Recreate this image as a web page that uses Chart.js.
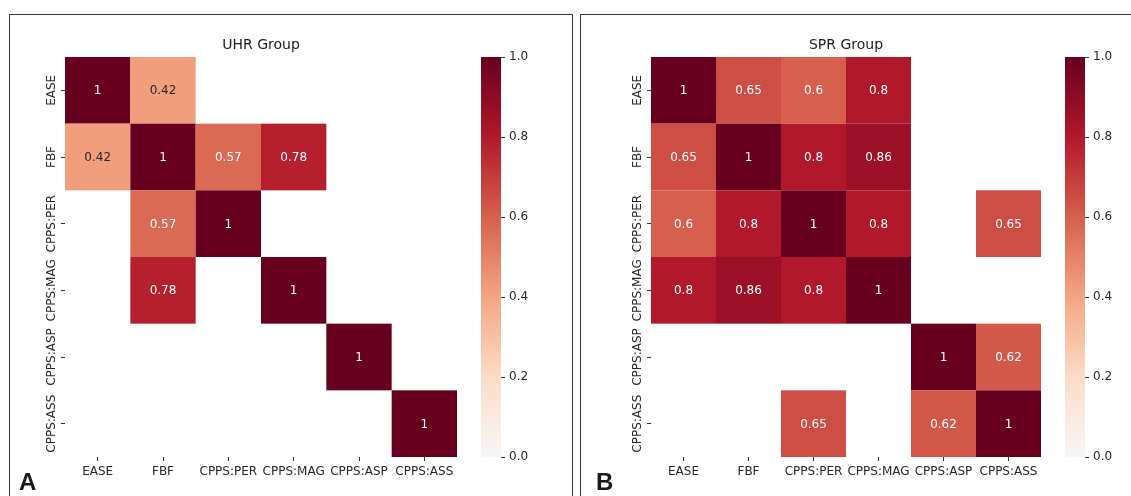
<!DOCTYPE html>
<html>
<head>
<meta charset="utf-8">
<script src="https://cdn.jsdelivr.net/npm/chart.js@4.4.0/dist/chart.umd.min.js"></script>
<style>
html,body{margin:0;padding:0;background:#fff;width:1131px;height:496px;overflow:hidden;position:relative;}
.frame{position:absolute;border:1px solid #333;box-sizing:border-box;}
canvas{position:absolute;}
.letter{position:absolute;font-family:"Liberation Sans",Arial,sans-serif;font-weight:bold;font-size:24px;line-height:24px;color:#1a1a1a;}
</style>
</head>
<body>
<div class="frame" style="left:9px;top:14px;width:564px;height:540px"></div>
<div class="frame" style="left:580px;top:14px;width:620px;height:540px"></div>
<canvas id="hmA" width="470" height="496" style="left:0;top:0"></canvas>
<canvas id="cbA" width="80" height="496" style="left:470px;top:0"></canvas>
<canvas id="hmB" width="470" height="496" style="left:586px;top:0"></canvas>
<canvas id="cbB" width="77" height="496" style="left:1054px;top:0"></canvas>
<div class="letter" style="left:19px;top:470px">A</div>
<div class="letter" style="left:596px;top:470px">B</div>
<script>
// ---------- data ----------
const variables = ['EASE', 'FBF', 'CPPS:PER', 'CPPS:MAG', 'CPPS:ASP', 'CPPS:ASS'];

// UHR group (null = masked / not shown)
const uhrEASE = [1, 0.42, null, null, null, null];
const uhrFBF  = [0.42, 1, 0.57, 0.78, null, null];
const uhrPER  = [null, 0.57, 1, null, null, null];
const uhrMAG  = [null, 0.78, null, 1, null, null];
const uhrASP  = [null, null, null, null, 1, null];
const uhrASS  = [null, null, null, null, null, 1];

// SPR group
const sprEASE = [1, 0.65, 0.6, 0.8, null, null];
const sprFBF  = [0.65, 1, 0.8, 0.86, null, null];
const sprPER  = [0.6, 0.8, 1, 0.8, null, 0.65];
const sprMAG  = [0.8, 0.86, 0.8, 1, null, null];
const sprASP  = [null, null, null, null, 1, 0.62];
const sprASS  = [null, null, 0.65, null, 0.62, 1];

const colorbarTicks = [0, 0.2, 0.4, 0.6, 0.8, 1.0];

const uhrMatrix = [uhrEASE, uhrFBF, uhrPER, uhrMAG, uhrASP, uhrASS];
const sprMatrix = [sprEASE, sprFBF, sprPER, sprMAG, sprASP, sprASS];

// ---------- colormap (upper half of RdBu_r) ----------
const cmapStops = [[247,247,247],[253,219,199],[244,165,130],[214,96,77],[178,24,43],[103,0,31]];
function cmapRGB(v) {
  v = Math.max(0, Math.min(1, v));
  const p = v * (cmapStops.length - 1);
  const i = Math.min(Math.floor(p), cmapStops.length - 2);
  const t = p - i;
  const a = cmapStops[i], b = cmapStops[i + 1];
  return [0,1,2].map(k => Math.round(a[k] + (b[k] - a[k]) * t));
}
function cmap(v) { const c = cmapRGB(v); return `rgb(${c[0]},${c[1]},${c[2]})`; }
function textColorFor(v) {
  const c = cmapRGB(v).map(x => { x /= 255; return x <= 0.03928 ? x / 12.92 : Math.pow((x + 0.055) / 1.055, 2.4); });
  const L = 0.2126 * c[0] + 0.7152 * c[1] + 0.0722 * c[2];
  return L > 0.408 ? '#262626' : '#ffffff';
}

Chart.defaults.font.family = '"DejaVu Sans", sans-serif';
Chart.defaults.color = '#262626';

// measure widest y label for centering rotated labels
const mctx = document.createElement('canvas').getContext('2d');
mctx.font = '12px "DejaVu Sans", sans-serif';
const widestLabel = Math.max(...variables.map(s => mctx.measureText(s).width));
const yPad = 9 - widestLabel / 2;

function heatPlugin(matrix) {
  return {
    id: 'heat',
    beforeDatasetsDraw(chart) {
      const xs = chart.scales.x, ys = chart.scales.y, ctx = chart.ctx;
      ctx.save();
      for (let r = 0; r < matrix.length; r++) {
        for (let c = 0; c < matrix[r].length; c++) {
          const v = matrix[r][c];
          if (v === null) continue;
          const x0 = xs.getPixelForValue(c - 0.5), x1 = xs.getPixelForValue(c + 0.5);
          const y0 = ys.getPixelForValue(r - 0.5), y1 = ys.getPixelForValue(r + 0.5);
          ctx.fillStyle = cmap(v);
          ctx.fillRect(Math.min(x0, x1), Math.min(y0, y1), Math.abs(x1 - x0), Math.abs(y1 - y0));
        }
      }
      ctx.font = '12px "DejaVu Sans", sans-serif';
      ctx.textAlign = 'center';
      ctx.textBaseline = 'middle';
      for (let r = 0; r < matrix.length; r++) {
        for (let c = 0; c < matrix[r].length; c++) {
          const v = matrix[r][c];
          if (v === null) continue;
          ctx.fillStyle = textColorFor(v);
          ctx.fillText(String(v), xs.getPixelForValue(c), ys.getPixelForValue(r) + 1);
        }
      }
      ctx.restore();
    }
  };
}

function makeHeatmap(id, title, matrix, rightPad) {
  return new Chart(document.getElementById(id), {
    type: 'scatter',
    data: { datasets: [] },
    options: {
      responsive: false,
      animation: false,
      layout: { padding: { left: 0, right: rightPad, top: 37, bottom: 11 } },
      plugins: {
        legend: { display: false },
        tooltip: { enabled: false },
        title: {
          display: true, text: title, fullSize: false,
          font: { size: 14, weight: 'normal' }, color: '#1a1a1a',
          padding: { top: 0, bottom: 3.2 }
        }
      },
      scales: {
        x: {
          type: 'category', labels: variables, offset: true,
          border: { display: false },
          grid: { display: true, drawOnChartArea: false, drawTicks: true, tickLength: 4, offset: false, color: '#333' },
          ticks: { autoSkip: false, minRotation: 0, maxRotation: 0, padding: 4, font: { size: 12 }, color: '#262626' },
          afterFit(s) { s.height = 28; }
        },
        y: {
          type: 'category', labels: variables, offset: true,
          border: { display: false },
          grid: { display: true, drawOnChartArea: false, drawTicks: true, tickLength: 4, offset: false, color: '#333' },
          ticks: { autoSkip: false, minRotation: 90, maxRotation: 90, crossAlign: 'center', padding: yPad, font: { size: 12 }, color: '#262626' },
          afterFit(s) { s.width = 65; }
        }
      }
    },
    plugins: [heatPlugin(matrix)]
  });
}

const colorbarPlugin = {
  id: 'colorbar',
  beforeDatasetsDraw(chart) {
    const ys = chart.scales.y, ca = chart.chartArea, ctx = chart.ctx;
    const pTop = ys.getPixelForValue(1), pBot = ys.getPixelForValue(0);
    const grad = ctx.createLinearGradient(0, pBot, 0, pTop);
    const n = 50;
    for (let i = 0; i <= n; i++) grad.addColorStop(i / n, cmap(i / n));
    ctx.save();
    ctx.fillStyle = grad;
    ctx.fillRect(ca.left, Math.min(pTop, pBot), ca.right - ca.left, Math.abs(pBot - pTop));
    ctx.restore();
  }
};

function makeColorbar(id, axisWidth) {
  return new Chart(document.getElementById(id), {
    type: 'scatter',
    data: { datasets: [] },
    options: {
      responsive: false,
      animation: false,
      layout: { padding: { left: 11, right: 0, top: 57, bottom: 39 } },
      plugins: { legend: { display: false }, tooltip: { enabled: false } },
      scales: {
        x: { display: false },
        y: {
          position: 'right', min: 0, max: 1,
          border: { display: false },
          afterBuildTicks(s) { s.ticks = colorbarTicks.map(v => ({ value: v })); },
          grid: { display: true, drawOnChartArea: false, drawTicks: true, tickLength: 4, color: '#333' },
          ticks: { padding: 4, font: { size: 12 }, color: '#262626', callback: v => Number(v).toFixed(1) },
          afterFit(s) { s.width = axisWidth; }
        }
      }
    },
    plugins: [colorbarPlugin]
  });
}

makeHeatmap('hmA', 'UHR Group', uhrMatrix, 13);
makeColorbar('cbA', 49);
makeHeatmap('hmB', 'SPR Group', sprMatrix, 15);
makeColorbar('cbB', 46);
</script>
</body>
</html>
